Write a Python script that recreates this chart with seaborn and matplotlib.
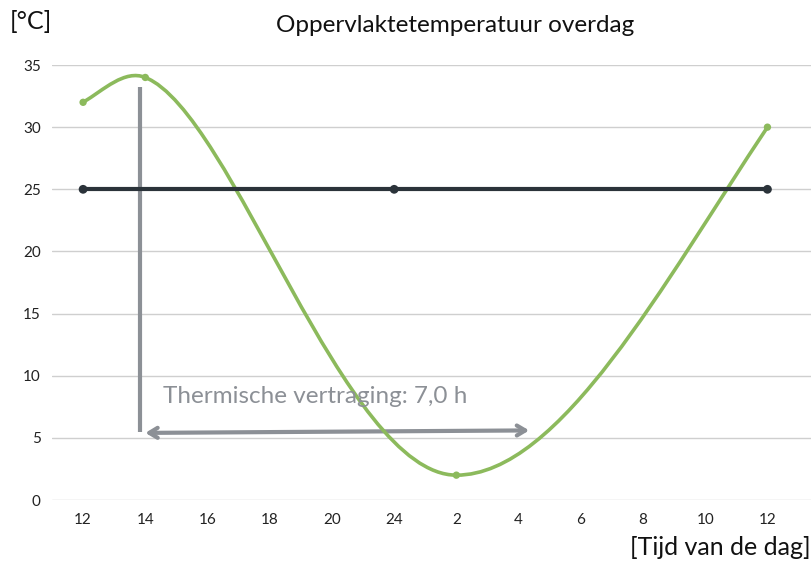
import matplotlib
matplotlib.use("Agg")
import matplotlib.pyplot as plt
import seaborn as sns
import pandas as pd
from matplotlib.path import Path
from matplotlib.patches import PathPatch

# x-as: tijd van de dag (categorieen)
tijd_labels = ["12", "14", "16", "18", "20", "24", "2", "4", "6", "8", "10", "12"]

# oppervlaktetemperatuur (gemeten punten)
opp_idx = [0, 1, 6, 11]
opp_temp = [32, 34, 2, 30]

# luchttemperatuur / referentie
ref_idx = [0, 5, 11]
ref_temp = [25, 25, 25]

vertraging = "Thermische vertraging: 7,0 h"

groen = "#8cba5c"
donker = "#2b333a"
grijs = "#8c9096"

sns.set_theme(style="white")
plt.rcParams["font.family"] = ["Lato", "DejaVu Sans"]

fig = plt.figure(figsize=(8.11, 5.62), dpi=100)
ax = fig.add_axes([0.0641, 0.1103, 0.9359, 0.774])

ax.set_xlim(-0.5, 11.7)
ax.set_ylim(0, 35)
ax.set_yticks(range(0, 36, 5))
ax.set_xticks(range(len(tijd_labels)))
ax.set_xticklabels(tijd_labels)
ax.grid(axis="y", color="#cfcfcf", linewidth=1)
ax.set_axisbelow(True)
for s in ax.spines.values():
    s.set_visible(False)
ax.tick_params(axis="both", length=0, labelsize=11, colors="#222222")
ax.tick_params(axis="x", pad=9)
ax.tick_params(axis="y", pad=8)

# vloeiende curve door de meetpunten (bezier, raaklijnen per punt)
helling = [3.0, -2.0, 0.0, 7.5]
handvat = [(1 / 3, 1 / 3), (0.28, 0.36), (1 / 3, 1 / 3)]
verts = [(opp_idx[0], opp_temp[0])]
codes = [Path.MOVETO]
for i in range(len(opp_idx) - 1):
    x0, y0 = opp_idx[i], opp_temp[i]
    x1, y1 = opp_idx[i + 1], opp_temp[i + 1]
    d0 = (x1 - x0) * handvat[i][0]
    d1 = (x1 - x0) * handvat[i][1]
    verts += [(x0 + d0, y0 + helling[i] * d0), (x1 - d1, y1 - helling[i + 1] * d1), (x1, y1)]
    codes += [Path.CURVE4] * 3
ax.add_patch(PathPatch(Path(verts, codes), facecolor="none", edgecolor=groen,
                       linewidth=2.6, capstyle="round", zorder=3))
sns.scatterplot(x=opp_idx, y=opp_temp, color=groen, s=28, edgecolor="none", ax=ax, zorder=4)

ref = pd.DataFrame({"x": ref_idx, "y": ref_temp})
sns.lineplot(data=ref, x="x", y="y", color=donker, linewidth=3, ax=ax, zorder=3)
sns.scatterplot(data=ref, x="x", y="y", color=donker, s=40, edgecolor="none", ax=ax, zorder=4)
ax.set_xlabel("")
ax.set_ylabel("")

# annotatie thermische vertraging
ax.plot([0.92, 0.92], [5.5, 33.2], color=grijs, linewidth=3, solid_capstyle="butt", zorder=2)
ax.annotate("", xy=(7.17, 5.6), xytext=(1.0, 5.4),
            arrowprops=dict(arrowstyle="<->,head_length=0.5,head_width=0.3",
                            color=grijs, linewidth=3, shrinkA=0, shrinkB=0), zorder=2)
ax.text(1.28, 8.3, vertraging, color=grijs, fontsize=17.5, va="center", ha="left")

fig.text(0.012, 0.962, "[°C]", fontsize=18, va="center", ha="left", color="#111111")
fig.text(0.561, 0.955, "Oppervlaktetemperatuur overdag", fontsize=17.5, va="center",
         ha="center", color="#111111")
fig.text(0.999, 0.025, "[Tijd van de dag]", fontsize=18, va="center", ha="right",
         color="#111111")

fig.savefig("out.png", dpi=100)
